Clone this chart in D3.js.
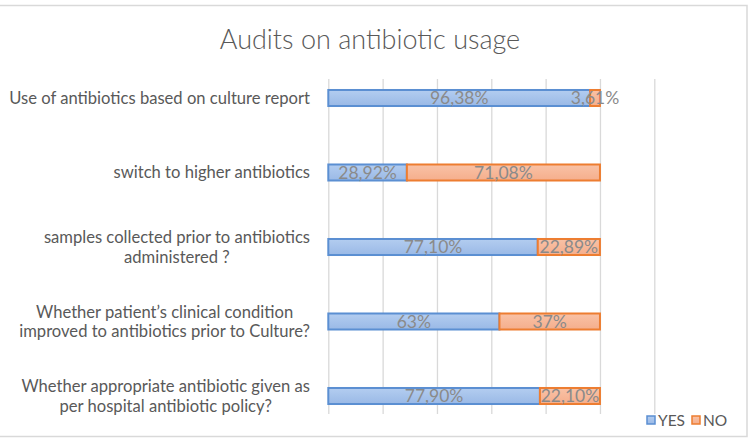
<!DOCTYPE html>
<html>
<head>
<meta charset="utf-8">
<script src="https://cdn.jsdelivr.net/npm/d3@7"></script>
<style>
  html, body { margin: 0; padding: 0; background: #fff; }
  svg { display: block; }
</style>
</head>
<body>
<svg id="chart" width="750" height="448"></svg>
<script>
// ---- data ----
const title = "Audits on antibiotic usage";
const categories = [
  ["Use of antibiotics based on culture report"],
  ["switch to higher antibiotics "],
  ["samples collected prior to antibiotics", "administered ?"],
  ["Whether patient\u2019s clinical condition", "improved to antibiotics prior to Culture?"],
  ["Whether appropriate antibiotic given as", "per hospital antibiotic policy?"]
];
const seriesNames = ["YES", "NO"];
const yesValues = [96.38, 28.92, 77.10, 63, 77.90];
const noValues = [3.61, 71.08, 22.89, 37, 22.10];
const yesLabels = ["96,38%", "28,92%", "77,10%", "63%", "77,90%"];
const noLabels = ["3,61%", "71,08%", "22,89%", "37%", "22,10%"];
const xTicks = [0, 20, 40, 60, 80, 100, 120];

// ---- setup ----
const svg = d3.select("#chart");
const FONT = "Lato, 'Open Sans', sans-serif";

const defs = svg.append("defs");
const gY = defs.append("linearGradient").attr("id", "gYes").attr("x1", 0).attr("y1", 0).attr("x2", 0).attr("y2", 1);
gY.append("stop").attr("offset", "0%").attr("stop-color", "#b3cdf0");
gY.append("stop").attr("offset", "100%").attr("stop-color", "#9ab9e6");
const gN = defs.append("linearGradient").attr("id", "gNo").attr("x1", 0).attr("y1", 0).attr("x2", 0).attr("y2", 1);
gN.append("stop").attr("offset", "0%").attr("stop-color", "#f9c2a6");
gN.append("stop").attr("offset", "100%").attr("stop-color", "#f5ae8c");

const fills = ["url(#gYes)", "url(#gNo)"];
const strokes = ["#5b8fd2", "#ed7d31"];

// chart border
svg.append("rect")
  .attr("x", -1).attr("y", 5.5).attr("width", 748).attr("height", 431)
  .attr("fill", "none").attr("stroke", "#d9d9d9").attr("stroke-width", 1.5);

// title
svg.append("text")
  .attr("x", 370).attr("y", 49)
  .attr("text-anchor", "middle")
  .attr("font-family", FONT).attr("font-weight", 300)
  .attr("font-size", 27).attr("fill", "#595959")
  .text(title);

// scales
const x = d3.scaleLinear().domain([0, 120]).range([328.3, 654.3]);
const idx = d3.range(categories.length);
const y = d3.scaleBand().domain(idx).range([60.75, 433.25])
  .paddingInner(0.785).paddingOuter(0.3925);

// gridlines via axis
const grid = svg.append("g")
  .attr("transform", "translate(0,414)")
  .call(d3.axisBottom(x).tickValues(xTicks).tickSize(-335).tickFormat(""));
grid.select(".domain").remove();
grid.selectAll(".tick line").attr("stroke", "#d9d9d9").attr("stroke-width", 1.3);

// stacked data
const rows = idx.map(i => ({ i, YES: yesValues[i], NO: noValues[i] }));
const stacked = d3.stack().keys(seriesNames)(rows);
const labelsBy = [yesLabels, noLabels];

stacked.forEach((layer, s) => {
  svg.append("g").selectAll("rect")
    .data(layer)
    .join("rect")
    .attr("x", d => x(d[0]))
    .attr("y", d => y(d.data.i))
    .attr("width", d => x(d[1]) - x(d[0]))
    .attr("height", y.bandwidth())
    .attr("fill", fills[s])
    .attr("stroke", strokes[s])
    .attr("stroke-width", 2);
});

stacked.forEach((layer, s) => {
  svg.append("g").selectAll("text")
    .data(layer)
    .join("text")
    .attr("x", d => (x(d[0]) + x(d[1])) / 2)
    .attr("y", d => y(d.data.i) + y.bandwidth() / 2)
    .attr("dy", "0.36em")
    .attr("text-anchor", "middle")
    .attr("font-family", FONT)
    .attr("font-size", 17.5)
    .attr("fill", "#8a8a8a")
    .text(d => labelsBy[s][d.data.i]);
});

// category labels (right aligned block, centered lines)
const labelRight = 310;
const lineH = 19.5;
const catG = svg.append("g");
categories.forEach((lines, i) => {
  const cy = y(i) + y.bandwidth() / 2;
  const t = catG.append("text")
    .attr("font-family", FONT)
    .attr("font-size", 16.6)
    .attr("fill", "#595959")
    .attr("text-anchor", "middle");
  const spans = lines.map((ln, k) => t.append("tspan")
    .attr("y", cy + (k - (lines.length - 1) / 2) * lineH)
    .attr("dy", "0.36em")
    .text(ln));
  const maxW = d3.max(spans, sp => sp.node().getComputedTextLength());
  spans.forEach(sp => sp.attr("x", labelRight - maxW / 2));
});

// legend
const leg = svg.append("g");
const legItems = [{ name: "YES", x: 647 }, { name: "NO", x: 692 }];
legItems.forEach((it, s) => {
  leg.append("rect")
    .attr("x", it.x).attr("y", 416).attr("width", 8).attr("height", 8)
    .attr("fill", fills[s]).attr("stroke", strokes[s]).attr("stroke-width", 1.5);
  leg.append("text")
    .attr("x", it.x + 11).attr("y", 420).attr("dy", "0.36em")
    .attr("font-family", FONT).attr("font-size", 15.5).attr("fill", "#595959")
    .text(it.name);
});
</script>
</body>
</html>
